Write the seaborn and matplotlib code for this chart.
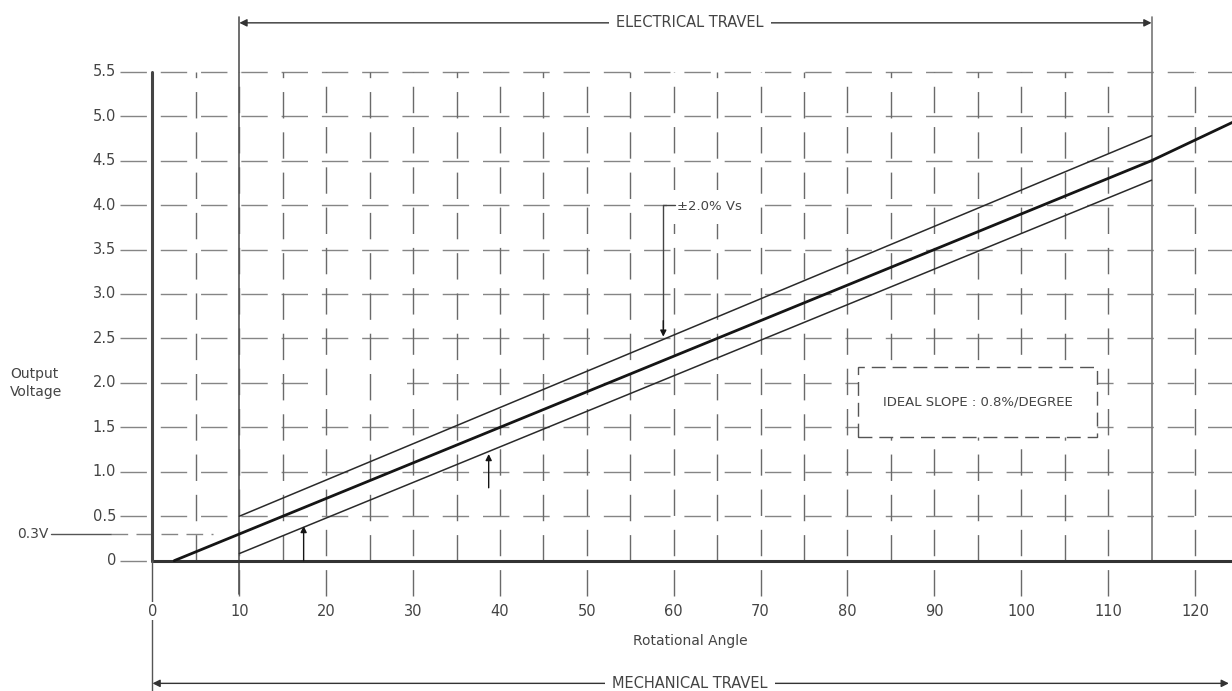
"""Potentiometer output curve: output voltage vs rotational angle."""

import matplotlib.pyplot as plt
import seaborn as sns
from matplotlib.patches import Rectangle

# ---- data ----
x_ticks = [0, 10, 20, 30, 40, 50, 60, 70, 80, 90, 100, 110, 120]
x_tick_labels = ["0", "10", "20", "30", "40", "50", "60", "70", "80", "90", "100", "110", "120"]
y_ticks = [0, 0.5, 1.0, 1.5, 2.0, 2.5, 3.0, 3.5, 4.0, 4.5, 5.0, 5.5]
y_tick_labels = ["0", "0.5", "1.0", "1.5", "2.0", "2.5", "3.0", "3.5", "4.0", "4.5", "5.0", "5.5"]
grid_x = [5, 10, 15, 20, 25, 30, 35, 40, 45, 50, 55, 60, 65, 70, 75, 80, 85, 90, 95, 100, 105, 110, 120]

ideal_angle = [2.5, 10, 115, 124.3]
ideal_volt = [0.0, 0.3, 4.5, 4.93]
upper_angle = [10, 115]
upper_volt = [0.5, 4.78]
lower_angle = [10, 115]
lower_volt = [0.08, 4.28]

elec_travel = (10, 115)
mech_travel = (0, 123.9)
offset_volt = 0.3

sns.set_theme(style="white")
plt.rcParams["font.family"] = ["DejaVu Sans"]

TXT = "#444444"
HGRID = "#858585"
VGRID = "#6a6a6a"
INK = "#151515"
DASH = (0, (19, 10))

fig = plt.figure(figsize=(12.32, 6.91), dpi=100)
ax = fig.add_axes([0, 0, 1, 1])
ax.set_xlim(-17.55, 124.26)
ax.set_ylim(-1.466, 6.307)
ax.axis("off")

# dashed grid
for gx in grid_x:
    y0 = -0.4 if gx % 10 == 0 else 0
    ax.plot([gx, gx], [y0, 5.5], color=VGRID, lw=1.0, ls=DASH, zorder=1.6)
for gy in y_ticks[1:]:
    ax.plot([-3.7, 124.3], [gy, gy], color=HGRID, lw=1.0, ls=DASH, zorder=1)
ax.plot([-3.7, 0], [0, 0], color=HGRID, lw=1.0, ls=DASH, zorder=1)
# gap in the 2.0 V grid line, as in the drawing
ax.add_patch(Rectangle((19.3, 1.96), 10.0, 0.08, fc="white", ec="none", zorder=1.3))

# axes lines
ax.plot([0, 124.3], [0, 0], color="#333333", lw=2.2, zorder=4)
ax.plot([0, 0], [0, 5.5], color="#444444", lw=2.2, zorder=4)
ax.plot([0, 0], [-1.466, 0], color="#555555", lw=1.0, zorder=4)

# electrical travel extension lines
ax.plot([elec_travel[0]] * 2, [-0.38, 6.12], color="#555555", lw=1.2, zorder=2)
ax.plot([elec_travel[1]] * 2, [0, 6.12], color="#777777", lw=1.2, zorder=2)

# 0.3V offset marker
ax.plot([-11.7, -4.8], [offset_volt] * 2, color="#555555", lw=1.0, zorder=2)
ax.plot([-4.8, 7.0], [offset_volt] * 2, color=HGRID, lw=1.0, ls=(0, (12, 6)), zorder=2)
ax.text(-12.0, offset_volt, "0.3V", ha="right", va="center", fontsize=10, color=TXT)

# ideal line and tolerance band
sns.lineplot(x=ideal_angle, y=ideal_volt, ax=ax, color=INK, lw=2.0, zorder=5)
sns.lineplot(x=upper_angle, y=upper_volt, ax=ax, color="#2a2a2a", lw=1.1, zorder=5)
sns.lineplot(x=lower_angle, y=lower_volt, ax=ax, color="#2a2a2a", lw=1.1, zorder=5)

# small arrows
arrow_kw = dict(arrowstyle="-|>", color=INK, lw=1.0, mutation_scale=9, shrinkA=0, shrinkB=0)
ax.annotate("", xy=(17.4, 0.39), xytext=(17.4, 0.0), arrowprops=arrow_kw, zorder=5)
ax.annotate("", xy=(38.7, 1.2), xytext=(38.7, 0.82), arrowprops=arrow_kw, zorder=5)

# ±2.0% Vs callout
ax.plot([58.8, 58.8], [4.0, 2.62], color="#444444", lw=1.0, zorder=7)
ax.annotate("", xy=(58.8, 2.52), xytext=(58.8, 2.7), arrowprops=arrow_kw, zorder=7)
ax.plot([58.8, 60.2], [4.0, 4.0], color="#444444", lw=1.0, zorder=7)
ax.text(60.4, 3.98, "±2.0% Vs", ha="left", va="center", fontsize=9.5, color=TXT, zorder=6,
        bbox=dict(boxstyle="square,pad=0.8", fc="white", ec="none"))

# ideal slope box
ax.add_patch(Rectangle((81.2, 1.39), 27.5, 0.79, fc="white", ec="#555555", lw=1.0,
                       ls=(0, (10, 5)), zorder=3))
ax.text(95.0, 1.78, "IDEAL SLOPE : 0.8%/DEGREE", ha="center", va="center",
        fontsize=9.5, color=TXT, zorder=6)

# tick labels
for xv, lab in zip(x_ticks, x_tick_labels):
    ax.text(xv, -0.57, lab, ha="center", va="center", fontsize=10.5, color=TXT,
            zorder=6, bbox=dict(boxstyle="square,pad=0.1", fc="white", ec="none"))
for yv, lab in zip(y_ticks, y_tick_labels):
    ax.text(-4.2, yv, lab, ha="right", va="center", fontsize=10.5, color=TXT, zorder=6)

ax.text(61.9, -0.9, "Rotational Angle", ha="center", va="center", fontsize=10, color=TXT)
ax.text(-16.4, 2.0, "Output\nVoltage", ha="left", va="center", fontsize=10,
        color=TXT, linespacing=1.3)

# travel dimension arrows
dim_kw = dict(arrowstyle="<|-|>", color="#333333", lw=1.0, mutation_scale=11,
              shrinkA=0, shrinkB=0)
ax.annotate("", xy=(elec_travel[0], 6.05), xytext=(elec_travel[1], 6.05), arrowprops=dim_kw)
ax.text(61.9, 6.05, "ELECTRICAL TRAVEL", ha="center", va="center", fontsize=10.5,
        color=TXT, bbox=dict(boxstyle="square,pad=0.5", fc="white", ec="none"))
ax.annotate("", xy=(mech_travel[0], -1.38), xytext=(mech_travel[1], -1.38), arrowprops=dim_kw)
ax.text(61.9, -1.38, "MECHANICAL TRAVEL", ha="center", va="center", fontsize=10.5,
        color=TXT, bbox=dict(boxstyle="square,pad=0.5", fc="white", ec="none"))

fig.savefig("out.png", dpi=100)
